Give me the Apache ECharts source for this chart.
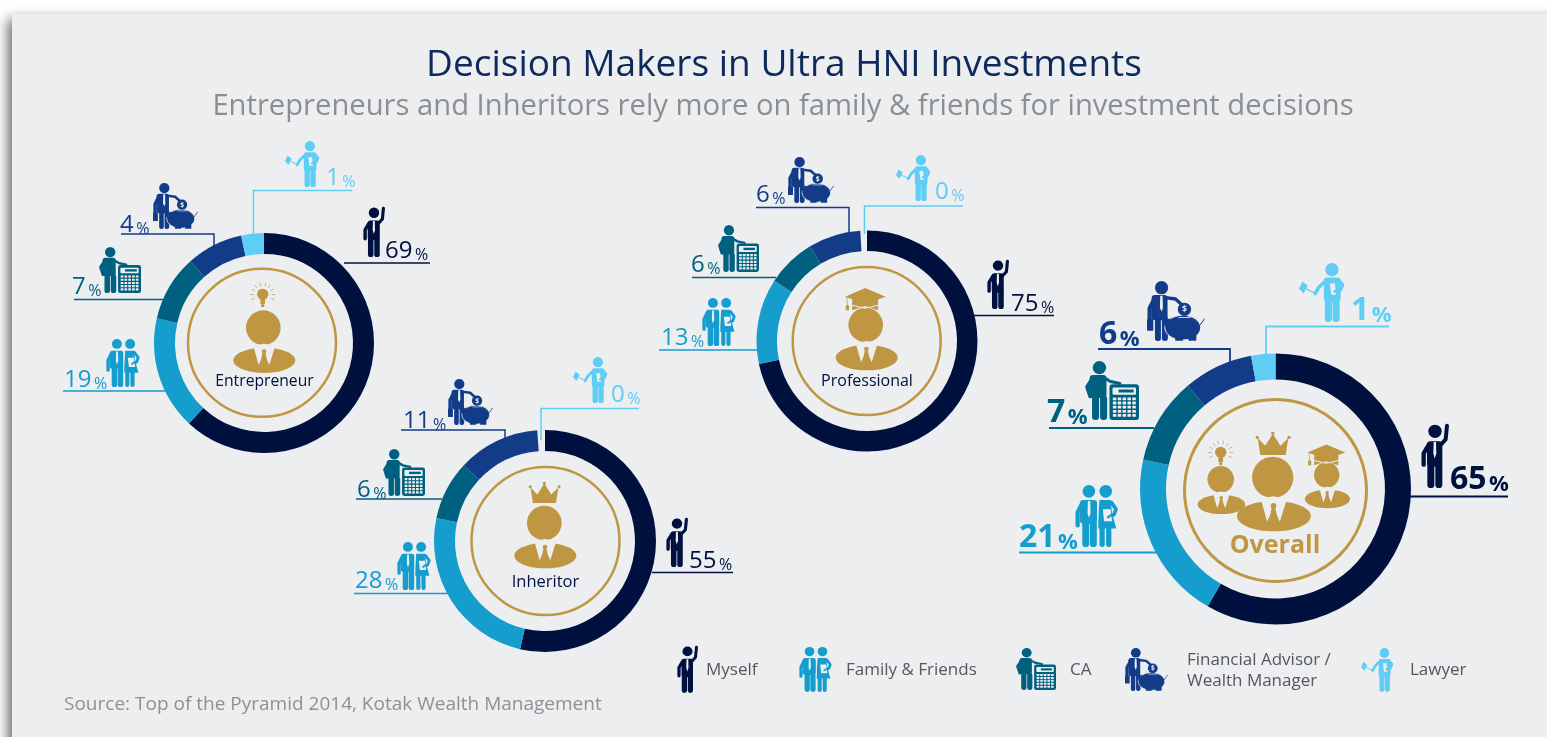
<!DOCTYPE html>
<html>
<head>
<meta charset="utf-8">
<style>html,body{margin:0;padding:0;background:#fff}#c{width:1547px;height:737px}</style>
<script src="https://cdn.jsdelivr.net/npm/echarts@6/dist/echarts.min.js"></script>
</head>
<body>
<div id="c"></div>
<script>
// ---- data ----
const categories = ['Myself', 'Family & Friends', 'CA', 'Financial Advisor / Wealth Manager', 'Lawyer'];
const titleText = 'Decision Makers in Ultra HNI Investments';
const subtitleText = 'Entrepreneurs and Inheritors rely more on family & friends for investment decisions';
const sourceText = 'Source: Top of the Pyramid 2014, Kotak Wealth Management';

// printed percentages
const entrepreneurPct = [69, 19, 7, 4, 1];
const inheritorPct    = [55, 28, 6, 11, 0];
const professionalPct = [75, 13, 6, 6, 0];
const overallPct      = [65, 21, 7, 6, 1];

// the arcs in the picture are not proportional to the printed figures:
// these are the arc sizes measured in degrees
const entrepreneurArc = [223, 60, 35, 30, 12];
const inheritorArc    = [193, 89, 31, 43, 4];
const professionalArc = [258, 45, 26, 27.5, 3.5];
const overallArc      = [210, 72.6, 37, 30, 10.4];

// ---- style and layout ----
const colors = ['#00103F', '#159DCE', '#006080', '#123C88', '#60CDF5'];
const GOLD = '#BF9742', BG = '#ECEEF0', LEGEND_TEXT = '#54575B';
const FONT = '"Open Sans", "Noto Sans", sans-serif';

const donuts = [
  { name: 'Entrepreneur', pct: entrepreneurPct, arc: entrepreneurArc, center: [264, 343], radius: [89, 110], big: false,
    text: [[385, 257], [64, 386], [72, 293], [120, 231], [326, 184]],
    leader: [[[344, 263], [400, 263], [430, 263]], [[165, 391], [100, 391], [63, 391]], [[163, 299.5], [100, 299.5], [74, 299.5]],
             [[214, 246], [214, 234], [121, 234]], [[253.5, 233], [253.5, 190.5], [352, 190.5]]],
    icons: [[363, 207, 22, 50], [106, 339, 33, 48], [99, 247, 42, 46], [153, 183, 45, 46], [285, 141, 34, 46]] },
  { name: 'Inheritor', pct: inheritorPct, arc: inheritorArc, center: [545, 541], radius: [90, 111], big: false,
    text: [[689, 567], [355, 587], [357, 496], [403, 427], [611, 401]],
    leader: [[[652, 572.5], [700, 572.5], [733, 572.5]], [[448, 593.5], [400, 593.5], [354, 593.5]], [[442, 499], [400, 499], [356, 499]],
             [[505, 438], [505, 430], [401, 430]], [[541, 440], [541, 408.5], [639, 408.5]]],
    icons: [[666, 518, 22, 49], [397, 542, 33, 48], [383, 449, 42, 47], [448, 379, 45, 46], [573, 357, 34, 46]] },
  { name: 'Professional', pct: professionalPct, arc: professionalArc, center: [867, 341], radius: [90, 110.5], big: false,
    text: [[1011, 310], [661, 344], [691, 271], [756, 201], [935, 198]],
    leader: [[[974, 315.5], [1020, 315.5], [1054, 315.5]], [[757, 350], [700, 350], [659, 350]], [[776, 277.5], [730, 277.5], [692, 277.5]],
             [[849, 232], [849, 207.5], [756, 207.5]], [[864.5, 234], [864.5, 206], [963, 206]]],
    icons: [[987, 260, 22, 49], [702, 298, 33, 48], [718, 225, 41, 47], [788, 157, 46, 46], [896, 155, 34, 46]] },
  { name: 'Overall', pct: overallPct, arc: overallArc, center: [1275.5, 489], radius: [109.5, 135.5], big: true,
    text: [[1450, 487], [1019, 545], [1047, 420], [1099, 342], [1351, 318]],
    leader: [[[1410, 496.5], [1460, 496.5], [1508, 496.5]], [[1156, 552.5], [1080, 552.5], [1019, 552.5]], [[1154, 428], [1100, 428], [1049, 428]],
             [[1230, 362], [1230, 349], [1098, 349]], [[1266, 354], [1266, 326.5], [1389, 326.5]]],
    icons: [[1421, 424, 28, 64], [1075, 485, 42, 62], [1085, 361, 54, 59], [1147, 281, 58, 60], [1299, 263, 45, 59]] }
];

// ---- icon primitives ----
const C = (cx, cy, r, fill) => ({ type: 'circle', shape: { cx, cy, r }, style: { fill } });
const E = (cx, cy, rx, ry, fill, stroke, lw) => ({ type: 'ellipse', shape: { cx, cy, rx, ry }, style: { fill, stroke, lineWidth: lw || 0 } });
const R = (x, y, width, height, r, fill) => ({ type: 'rect', shape: { x, y, width, height, r }, style: { fill } });
const P = (points, fill) => ({ type: 'polygon', shape: { points }, style: { fill } });
const L = (points, lw, stroke) => ({ type: 'polyline', shape: { points }, style: { fill: 'none', stroke, lineWidth: lw, lineCap: 'round', lineJoin: 'round' } });

const iconDefs = [
  { w: 84, h: 192, draw: c => [
    C(42, 22, 20, c), R(18, 52, 46, 76, 10, c), L([[22, 64], [8, 88], [8, 122]], 13, c), L([[56, 66], [74, 46], [78, 5]], 12, c),
    R(19, 115, 21, 77, 10, c), R(43, 115, 21, 77, 10, c), P([[38, 54], [45, 54], [46, 88], [41, 104], [37, 88]], BG)] },
  { w: 127, h: 185, draw: c => [
    C(42, 19, 19, c), C(93, 19, 19, c), R(15, 45, 52, 70, 10, c), L([[20, 58], [8, 82], [8, 120]], 13, c),
    R(22, 105, 21, 80, 10, c), R(45, 105, 21, 80, 10, c), P([[39, 48], [46, 48], [47, 85], [42, 98], [38, 85]], BG),
    P([[74, 45], [108, 45], [112, 85], [125, 130], [68, 130]], c), R(74, 120, 16, 65, 8, c), R(94, 120, 16, 65, 8, c),
    L([[110, 52], [124, 72], [118, 88], [100, 100]], 11, c), L([[69, 46], [69, 130]], 3, BG),
    P([[84, 72], [108, 72], [112, 108], [88, 108]], BG), L([[112, 88], [100, 96]], 7, c)] },
  { w: 161, h: 178, draw: c => {
    const els = [C(43, 20, 20, c), R(14, 42, 50, 70, 10, c), L([[22, 55], [7, 78], [16, 106]], 13, c), L([[56, 50], [76, 62], [104, 68]], 9, c),
      R(21, 105, 21, 73, 10, c), R(45, 105, 21, 73, 10, c), R(73, 70, 88, 108, 9, c), R(82, 80, 70, 22, 3, BG), R(100, 86, 45, 9, 0, c)];
    for (let j = 0; j < 5; j++) for (let i = 0; i < 5; i++) els.push(R(83 + i * 14.5, 110 + j * 12.5, 10.5, 8.5, 1, BG));
    return els;
  } },
  { w: 175, h: 180, draw: c => [
    C(44, 20, 20, c), R(14, 42, 48, 76, 10, c), L([[22, 55], [8, 82], [8, 120]], 13, c), L([[56, 50], [86, 54], [106, 72]], 10, c),
    R(0, 115, 19, 34, 2, c), R(24, 105, 18, 75, 8, c), R(45, 105, 18, 75, 8, c), P([[40, 44], [47, 44], [48, 80], [44, 92], [39, 80]], BG),
    E(108, 140, 54, 37, c, BG, 3), P([[52, 120], [70, 112], [74, 130], [56, 140]], c), R(85, 160, 24, 19, 2, c), R(125, 160, 24, 19, 2, c),
    L([[160, 132], [173, 114]], 3, c), C(113, 85, 20, c),
    { type: 'text', x: 113, y: 86, style: { text: '$', fontSize: 26, fontWeight: 700, fontFamily: FONT, fill: BG, align: 'center', verticalAlign: 'middle' } },
    R(95, 108, 36, 2.5, 0, BG)] },
  { w: 134, h: 178, draw: c => [
    C(98, 20, 20, c), R(74, 44, 50, 72, 10, c), R(77, 105, 21, 73, 10, c), R(100, 105, 21, 73, 10, c),
    L([[82, 52], [60, 72], [48, 92]], 11, c), L([[50, 92], [22, 78]], 4, c), P([[10, 56], [26, 68], [14, 92], [0, 78]], c),
    L([[118, 52], [130, 65], [124, 80], [104, 86]], 10, c), P([[92, 62], [107, 62], [110, 96], [96, 96]], BG), L([[124, 80], [106, 86]], 8, c)] }
];

const bustEls = () => [
  C(0, 0, 52, GOLD), E(3, 98, 93, 38, GOLD),
  P([[-30, 54], [-14, 112], [2, 76], [18, 112], [36, 54], [2, 48]], BG),
  C(2, 72, 7, GOLD), P([[-3, 78], [7, 78], [13, 112], [2, 122], [-9, 112]], GOLD)
];
const crownEls = () => [
  P([[5, 18], [28, 42], [51, 5], [74, 42], [98, 18], [90, 70], [13, 70]], GOLD),
  C(4, 16, 5, GOLD), C(51, 4, 5, GOLD), C(100, 16, 5, GOLD)
];
const capEls = () => [
  P([[20, 30], [92, 30], [92, 62], [56, 50], [20, 62]], GOLD), L([[20, 48], [56, 56], [92, 48]], 3, BG),
  P([[0, 24], [56, 0], [113, 24], [56, 44]], GOLD), L([[5, 26], [7, 50]], 2, GOLD), R(2, 48, 9, 14, 1, GOLD)
];
const bulbEls = () => {
  const els = [C(0, -2, 17, GOLD), R(-7, 12, 14, 16, 3, GOLD), R(-5, 28, 10, 8, 3, GOLD)];
  [-88, -62, -38, -14, 14, 38, 62, 88, -112, 112].forEach(a => {
    const t = (a - 90) * Math.PI / 180;
    els.push(L([[Math.cos(t) * 28, Math.sin(t) * 28], [Math.cos(t) * 37, Math.sin(t) * 37]], 2, GOLD));
  });
  return els;
};
const group = (x, y, sx, sy, children) => ({ type: 'group', x, y, scaleX: sx, scaleY: sy, silent: true, children });
const icon = (k, box) => group(box[0], box[1], box[2] / iconDefs[k].w, box[3] / iconDefs[k].h, iconDefs[k].draw(colors[k]));
const goldRing = (cx, cy, r, lw) => ({ type: 'circle', silent: true, shape: { cx, cy, r }, style: { fill: 'none', stroke: GOLD, lineWidth: lw } });
const txt = (text, x, y, fontSize, fill, align, fontWeight, scaleX) => ({
  type: 'text', x, y, silent: true, scaleX: scaleX || 1,
  style: { text, fontSize, fill, align: align || 'left', verticalAlign: 'middle', fontFamily: FONT, fontWeight: fontWeight || 400 }
});

// ---- graphic layer ----
const elements = [
  { type: 'rect', silent: true, shape: { x: 12, y: 14, width: 1700, height: 900 },
    style: { fill: BG, shadowBlur: 12, shadowColor: 'rgba(0,0,0,0.6)', shadowOffsetX: -4, shadowOffsetY: 5 } },
  goldRing(262, 342.7, 74, 2.5), goldRing(545.5, 541, 74, 2.5), goldRing(866.7, 341, 74, 2.5), goldRing(1275.5, 490.5, 91, 3),
  group(263.3, 327.7, 1 / 3, 1 / 3, bustEls()), group(262.7, 295, 1 / 3, 1 / 3, bulbEls()),
  group(544.3, 523, 1 / 3, 1 / 3, bustEls()), group(529, 482, 0.3, 0.3, crownEls()),
  group(865.7, 325, 1 / 3, 1 / 3, bustEls()), group(845, 288, 0.36, 0.36, capEls()),
  group(1220.7, 479.3, 0.256, 0.256, bustEls()), group(1220.7, 453, 1 / 3, 1 / 3, bulbEls()),
  group(1272.7, 477.3, 0.397, 0.397, bustEls()), group(1256, 432, 0.33, 0.33, crownEls()),
  group(1326.7, 475, 0.244, 0.244, bustEls()), group(1307.5, 444.5, 0.335, 0.335, capEls()),
  txt(donuts[0].name, 264.5, 382, 15.7, colors[0], 'center'),
  txt(donuts[1].name, 545.5, 582, 16.5, colors[0], 'center'),
  txt(donuts[2].name, 867, 381, 16, colors[0], 'center'),
  txt(donuts[3].name, 1275, 546, 25, GOLD, 'center', 700),
  // legend
  icon(0, [677, 646, 21, 47]), icon(1, [799, 647, 32, 45]), icon(2, [1016, 648, 40, 42]), icon(3, [1125, 648, 43, 43]), icon(4, [1361, 648, 32, 44]),
  txt(categories[0], 706, 670.5, 17, LEGEND_TEXT), txt(categories[1], 846, 670.5, 17, LEGEND_TEXT), txt(categories[2], 1070, 670.5, 17, LEGEND_TEXT),
  txt('Financial Advisor /', 1187, 660.5, 17, LEGEND_TEXT), txt('Wealth Manager', 1187, 681.5, 17, LEGEND_TEXT), txt(categories[4], 1410, 670.5, 17, LEGEND_TEXT),
  txt(sourceText, 64, 704.5, 18, '#8E9194', 'left', 400, 1.056)
];
donuts.forEach(d => d.icons.forEach((b, k) => elements.push(icon(k, b))));

// ---- pie series ----
const series = donuts.map(d => ({
  type: 'pie', name: d.name, center: d.center, radius: d.radius, startAngle: 90, clockwise: true,
  avoidLabelOverlap: false, silent: true, animation: false, padAngle: 0,
  label: { show: true, position: 'outside', fontFamily: FONT, lineHeight: 0 },
  labelLine: { show: true, lineStyle: { width: d.big ? 1.8 : 1.5 } },
  labelLayout: p => {
    const i = p.dataIndex;
    return { x: d.text[i][0], y: d.text[i][1] + (d.big ? 9 : 6.5), align: 'left', verticalAlign: 'bottom', labelLinePoints: d.leader[i] };
  },
  data: d.arc.map((v, i) => ({
    value: v, name: categories[i],
    itemStyle: { color: (d.pct[i] === 0) ? 'transparent' : colors[i] },
    labelLine: { lineStyle: { color: colors[i] } },
    label: {
      formatter: '{v|' + d.pct[i] + '}{s|}{p|%}',
      rich: {
        v: { fontFamily: FONT, fontSize: d.big ? 32 : 24, fontWeight: d.big ? 700 : 400, color: colors[i], verticalAlign: 'bottom' },
        s: { width: 2.5, fontSize: 10 },
        p: { fontFamily: FONT, fontSize: d.big ? 22 : 16, fontWeight: d.big ? 700 : 400, color: colors[i], verticalAlign: 'bottom' }
      }
    }
  }))
}));

const chart = echarts.init(document.getElementById('c'), null, { renderer: 'canvas' });
chart.setOption({
  animation: false,
  backgroundColor: '#fff',
  title: [
    { text: titleText, left: 779, top: 42, textAlign: 'center', textStyle: { fontFamily: FONT, fontSize: 37, fontWeight: 400, color: '#0E2A5A' } },
    { text: subtitleText, left: 778, top: 87, textAlign: 'center', textStyle: { fontFamily: FONT, fontSize: 29.2, fontWeight: 400, color: '#8C8F92' } }
  ],
  graphic: { elements },
  series
});
</script>
</body>
</html>
